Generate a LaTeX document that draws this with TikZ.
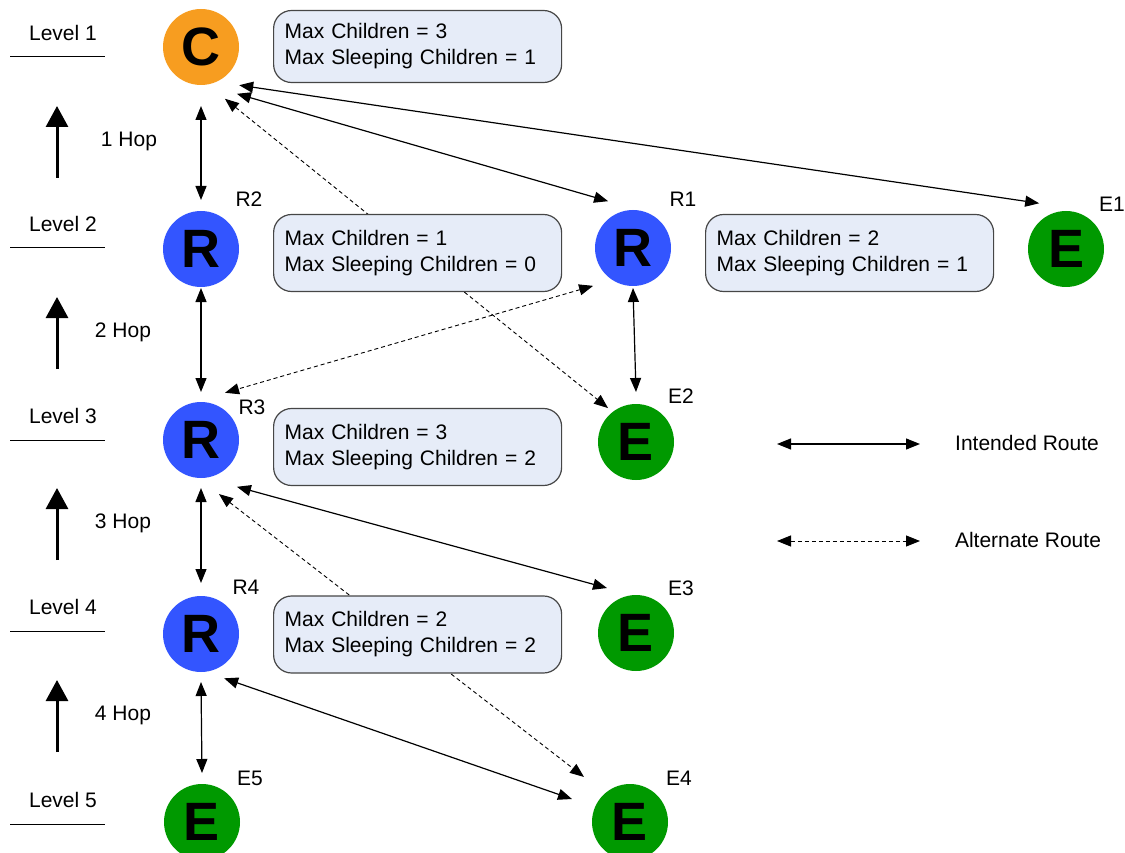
\documentclass[tikz,border=0pt]{standalone}
\usepackage{fontspec}
\setmainfont{Liberation Sans}
\usetikzlibrary{arrows.meta}
\definecolor{coordorange}{RGB}{247,157,32}
\definecolor{routerblue}{RGB}{51,85,255}
\definecolor{enddevgreen}{RGB}{0,153,0}
\definecolor{boxfill}{RGB}{230,236,248}
\definecolor{boxline}{RGB}{70,70,70}
\begin{document}
\begin{tikzpicture}[x=1pt,y=-1pt,
	dev/.style={circle,minimum size=76pt,inner sep=0pt,font=\fontsize{54}{54}\selectfont\bfseries},
	coord/.style={dev,fill=coordorange},
	router/.style={dev,fill=routerblue},
	enddev/.style={dev,fill=enddevgreen},
	txt/.style={font=\fontsize{21}{26}\selectfont,inner sep=0pt},
	infobox/.style={draw=boxline,line width=1.2pt,fill=boxfill,rounded corners=18pt,anchor=west,text width=266pt,inner xsep=11pt,minimum height=77pt,align=left,font=\fontsize{21}{26}\selectfont},
	link/.style={line width=1.2pt,{Triangle[length=14pt,width=11pt]}-{Triangle[length=14pt,width=11pt]}},
	altlink/.style={link,line width=0.9pt,dash pattern=on 4pt off 3pt},
	hoparrow/.style={line width=3pt,-{Triangle[length=21pt,width=22pt]}}]
			\useasboundingbox (0,0) rectangle (1125,853);
			
			\foreach \lvl/\yy in {1/33,2/224,3/416,4/607,5/800} {
				\node[txt] (level\lvl) at (63,\yy) {Level \lvl};
				\draw[line width=1pt] (10,\yy+24) -- (105,\yy+24);
			}
			\foreach \h/\xx/\yy in {1/129/141,2/123/332,3/123/523,4/123/715} {
				\node[txt] (hop\h) at (\xx,\yy) {\h\ Hop};
				\coordinate (hopfoot\h) at (57,\yy+37);
				\coordinate (hoptip\h) at (57,\yy-35);
				\draw[hoparrow] (hopfoot\h) -- (hoptip\h);
			}
			
			\node[coord] (C) at (201,47) {C};
			\node[router] (R2) at (201,249) {R};
			\node[router] (R1) at (633,248) {R};
			\node[enddev] (E1) at (1066,249) {E};
			\node[router] (R3) at (201,440) {R};
			\node[enddev] (E2) at (636,442) {E};
			\node[router] (R4) at (201,634) {R};
			\node[enddev] (E3) at (636,633) {E};
			\node[enddev] (E5) at (202,822) {E};
			\node[enddev] (E4) at (630,822) {E};
			
			\node[txt] (labR2) at (249,199) {R2};
			\node[txt] (labR1) at (683,199) {R1};
			\node[txt] (labE1) at (1112,204) {E1};
			\node[txt] (labR3) at (252,407) {R3};
			\node[txt] (labE2) at (681,396) {E2};
			\node[txt] (labR4) at (246,587) {R4};
			\node[txt] (labE3) at (681,588) {E3};
			\node[txt] (labE5) at (250,778) {E5};
			\node[txt] (labE4) at (679,778) {E4};
			
			\draw[link] ([shift={(-90:59pt)}]C.center) -- ([shift={(90:49pt)}]R2.center);
			\draw[link] ([shift={(-52.5:59pt)}]C.center) -- ([shift={(118:53pt)}]R1.center);
			\draw[link] ([shift={(-45:54pt)}]C.center) -- ([shift={(120.4:53pt)}]E1.center);
			\draw[altlink] ([shift={(-65.2:57pt)}]C.center) -- ([shift={(129.5:44pt)}]E2.center);
			\draw[link] ([shift={(-90:39pt)}]R2.center) -- ([shift={(90:48pt)}]R3.center);
			\draw[link] ([shift={(-90:40pt)}]R1.center) -- ([shift={(90:50pt)}]E2.center);
			\draw[altlink] ([shift={(-136.5:55pt)}]R1.center) -- ([shift={(63:53pt)}]R3.center);
			\draw[link] ([shift={(-90:48pt)}]R3.center) -- ([shift={(90:51pt)}]R4.center);
			\draw[link] ([shift={(-52.5:59pt)}]R3.center) -- ([shift={(122.8:53.5pt)}]E3.center);
			\draw[altlink] ([shift={(-71.6:57pt)}]R3.center) -- ([shift={(135.6:64.4pt)}]E4.center);
			\draw[link] ([shift={(-90:48pt)}]R4.center) -- ([shift={(90:49pt)}]E5.center);
			\draw[link] ([shift={(-62.4:50pt)}]R4.center) -- ([shift={(158.4:62.4pt)}]E4.center);
			
			\node[infobox,minimum height=72pt] (infoC) at (273,46.5) {Max Children = 3\\Max Sleeping Children = 1};
			\node[infobox] (infoR2) at (273,253) {Max Children = 1\\Max Sleeping Children = 0};
			\node[infobox] (infoR1) at (705,253) {Max Children = 2\\Max Sleeping Children = 1};
			\node[infobox] (infoR3) at (273,447) {Max Children = 3\\Max Sleeping Children = 2};
			\node[infobox] (infoR4) at (273,634.5) {Max Children = 2\\Max Sleeping Children = 2};
			
			\coordinate (keysolidL) at (777,444);
			\coordinate (keysolidR) at (920,444);
			\draw[link] (keysolidL) -- (keysolidR);
			\node[txt] (keysolid) at (1027,443) {Intended Route};
			\coordinate (keydashL) at (777,541);
			\coordinate (keydashR) at (920,541);
			\draw[altlink] (keydashL) -- (keydashR);
			\node[txt] (keydash) at (1028,540) {Alternate Route};
\end{tikzpicture}
\end{document}
